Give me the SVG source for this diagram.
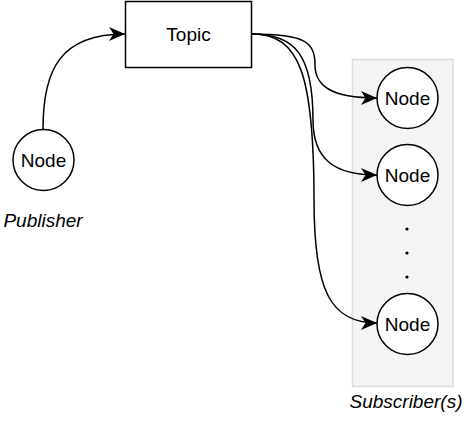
<svg xmlns="http://www.w3.org/2000/svg" width="466" height="422" viewBox="0 0 466 422">
<style>
.node{fill:#fff;stroke:#000;stroke-width:1.5}
.lbl{font-family:"Liberation Sans",Arial,sans-serif;font-size:19px;fill:#000;text-anchor:middle}
.it{font-family:"Liberation Sans",Arial,sans-serif;font-size:19px;font-style:italic;fill:#000;text-anchor:middle}
.edge{fill:none;stroke:#000;stroke-width:1.5}
</style>
<defs>
<marker id="arr" viewBox="0 0 16 14" refX="16" refY="7" markerWidth="16" markerHeight="14" markerUnits="userSpaceOnUse" orient="auto">
<path d="M0,0 L16,7 L0,14 L4.5,7 Z" fill="#000"/>
</marker>
</defs>
<rect x="0" y="0" width="466" height="422" fill="#fff"/>
<g id="subscribers-group">
<rect x="352.5" y="59.5" width="100.5" height="327" fill="#f5f4f2" stroke="#dcdcdc" stroke-width="1.5"/>
<text class="it" x="406" y="408">Subscriber(s)</text>
</g>
<g id="connectors">
<path class="edge" marker-end="url(#arr)" d="M43,129 C43,70 60,34 125,34"/>
<path class="edge" marker-end="url(#arr)" d="M252,34 C305,34 315,42 315,65 C315,85 330,98 377,98"/>
<path class="edge" marker-end="url(#arr)" d="M252,34 C295,34 313,55 313,120 C313,160 335,175 377,175"/>
<path class="edge" marker-end="url(#arr)" d="M252,34 C300,34 314,75 314,200 C314,290 330,323 377,323"/>
</g>
<g id="topic">
<rect x="125.5" y="1.5" width="126" height="66" class="node"/>
<text class="lbl" x="188.5" y="40.5">Topic</text>
</g>
<g id="publisher">
<circle cx="43.5" cy="160" r="30.5" class="node"/>
<text class="lbl" x="43.5" y="166.5">Node</text>
<text class="it" x="43" y="226.5">Publisher</text>
</g>
<g id="sub1">
<circle cx="407.5" cy="98" r="30.5" class="node"/>
<text class="lbl" x="407.5" y="104.5">Node</text>
</g>
<g id="sub2">
<circle cx="407.5" cy="175" r="30.5" class="node"/>
<text class="lbl" x="407.5" y="181.5">Node</text>
</g>
<g id="dots">
<circle cx="407" cy="229" r="1.6" fill="#000"/>
<circle cx="407" cy="253" r="1.6" fill="#000"/>
<circle cx="407" cy="277" r="1.6" fill="#000"/>
</g>
<g id="sub3">
<circle cx="407.5" cy="324" r="30.5" class="node"/>
<text class="lbl" x="407.5" y="330.5">Node</text>
</g>
</svg>
